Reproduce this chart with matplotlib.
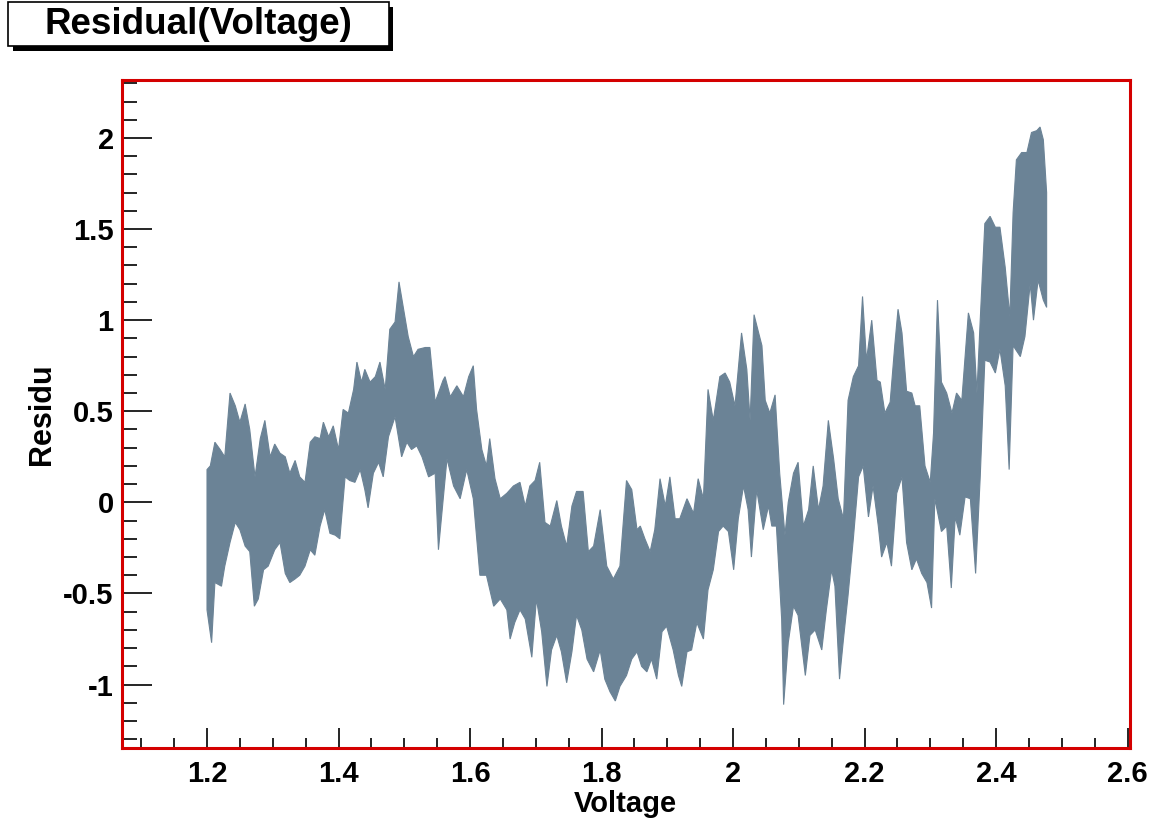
import numpy as np
import matplotlib
matplotlib.use("Agg")
import matplotlib.pyplot as plt
from matplotlib.patches import Rectangle
from matplotlib.ticker import MultipleLocator, FuncFormatter

# =========================
# Data (upper / lower edge of the residual band)
# =========================
volt_top = [
    1.200, 1.205, 1.212, 1.220, 1.227, 1.235, 1.243, 1.250, 1.258, 1.265,
    1.273, 1.281, 1.288, 1.296, 1.303, 1.311, 1.319, 1.326, 1.334, 1.341,
    1.349, 1.357, 1.364, 1.372, 1.377, 1.385, 1.392, 1.400, 1.407, 1.415,
    1.423, 1.428, 1.435, 1.440, 1.448, 1.456, 1.463, 1.471, 1.478, 1.486,
    1.492, 1.499, 1.506, 1.514, 1.521, 1.532, 1.539, 1.547, 1.559,
    1.562, 1.570, 1.580, 1.590, 1.598, 1.605, 1.610, 1.618, 1.625, 1.630,
    1.638, 1.646, 1.656, 1.666, 1.676, 1.684, 1.691, 1.699, 1.706, 1.714,
    1.722, 1.732, 1.739, 1.747, 1.755, 1.762, 1.772, 1.780, 1.788, 1.798,
    1.808, 1.818, 1.828, 1.838, 1.846, 1.854, 1.859, 1.866, 1.874, 1.881,
    1.889, 1.897, 1.904, 1.912, 1.919, 1.930, 1.940, 1.947, 1.955,
    1.962, 1.970, 1.980, 1.988, 1.995, 2.003, 2.013, 2.021, 2.026, 2.032,
    2.039, 2.044, 2.049, 2.056, 2.064, 2.071, 2.079, 2.084, 2.092, 2.099,
    2.107, 2.115, 2.122, 2.130, 2.137, 2.145, 2.153, 2.160, 2.168, 2.175,
    2.183, 2.191, 2.197, 2.203, 2.211, 2.219, 2.224, 2.231, 2.239, 2.246,
    2.251,
    2.257, 2.264, 2.272, 2.277, 2.284, 2.292, 2.300, 2.305, 2.311, 2.317,
    2.325, 2.333, 2.340, 2.348, 2.358, 2.366, 2.371, 2.376, 2.383, 2.391,
    2.399, 2.406, 2.414, 2.421, 2.426, 2.431, 2.439, 2.447, 2.454, 2.462,
    2.467, 2.472, 2.477,
]
resid_top = [
    0.18, 0.20, 0.33, 0.29, 0.25, 0.60, 0.53, 0.44, 0.54, 0.40,
    0.14, 0.35, 0.45, 0.25, 0.32, 0.27, 0.25, 0.16, 0.23, 0.14,
    0.11, 0.33, 0.36, 0.35, 0.44, 0.36, 0.42, 0.29, 0.51, 0.49,
    0.62, 0.77, 0.66, 0.73, 0.66, 0.69, 0.77, 0.62, 0.95, 0.99,
    1.21, 1.06, 0.91, 0.80, 0.84, 0.85, 0.85, 0.55, 0.67,
    0.69, 0.58, 0.64, 0.58, 0.69, 0.75, 0.51, 0.29, 0.20, 0.35,
    0.13, 0.02, 0.05, 0.09, 0.11, -0.02, 0.09, 0.12, 0.22, -0.11,
    -0.13, 0.01, -0.13, -0.24, -0.02, 0.06, 0.06, -0.27, -0.24, -0.04,
    -0.35, -0.42, -0.35, 0.12, 0.07, -0.15, -0.13, -0.20, -0.27, -0.15,
    0.13, -0.02, 0.14, -0.09, -0.09, 0.02, -0.06, 0.13, 0.02,
    0.62, 0.45, 0.69, 0.71, 0.66, 0.53, 0.93, 0.73, 0.45, 1.03,
    0.93, 0.86, 0.56, 0.49, 0.59, 0.16, -0.18, 0.00, 0.16, 0.22,
    -0.13, -0.04, 0.20, -0.04, 0.09, 0.45, 0.24, 0.02, -0.09, 0.56,
    0.69, 0.75, 1.13, 0.78, 1.00, 0.67, 0.66, 0.49, 0.55, 0.86,
    1.06,
    0.93, 0.61, 0.60, 0.53, 0.53, 0.20, 0.11, 0.38, 1.11, 0.66,
    0.60, 0.49, 0.60, 0.56, 1.04, 0.93, 0.60, 1.00, 1.53, 1.57,
    1.51, 1.51, 1.29, 1.02, 1.59, 1.88, 1.92, 1.92, 2.03, 2.04,
    2.06, 1.99, 1.70,
]

volt_bottom = [
    1.200, 1.207, 1.212, 1.222, 1.227, 1.235, 1.243, 1.250, 1.258, 1.265,
    1.272, 1.278, 1.286, 1.293, 1.303, 1.311, 1.319, 1.326, 1.334, 1.341,
    1.349, 1.357, 1.364, 1.372, 1.379, 1.387, 1.395, 1.402, 1.410, 1.417,
    1.425, 1.433, 1.440, 1.445, 1.453, 1.461, 1.468, 1.476, 1.486, 1.496,
    1.504, 1.511, 1.519, 1.527, 1.537, 1.547, 1.552,
    1.565, 1.575, 1.585, 1.595, 1.605, 1.615, 1.625, 1.636, 1.646, 1.656,
    1.661, 1.668, 1.676, 1.684, 1.694, 1.701, 1.709, 1.717, 1.724, 1.732,
    1.739, 1.747, 1.755, 1.762, 1.770, 1.778, 1.788, 1.798, 1.805, 1.813,
    1.821, 1.828, 1.838, 1.846, 1.854, 1.861, 1.869, 1.876, 1.884, 1.892,
    1.899, 1.909, 1.917, 1.922, 1.930, 1.937, 1.945, 1.955,
    1.962, 1.970, 1.978, 1.985, 1.993, 2.001, 2.008, 2.016, 2.023,
    2.028, 2.036, 2.046, 2.054, 2.059, 2.066, 2.074, 2.077, 2.084, 2.092,
    2.099, 2.110, 2.117, 2.125, 2.135, 2.142, 2.150, 2.155, 2.162, 2.168,
    2.175, 2.183, 2.191, 2.198, 2.206, 2.213, 2.221, 2.226, 2.234, 2.241,
    2.249,
    2.257, 2.264, 2.272, 2.279, 2.287, 2.295, 2.302, 2.307, 2.317, 2.325,
    2.332, 2.338, 2.345, 2.353, 2.361, 2.369, 2.376, 2.383, 2.391, 2.399,
    2.406, 2.414, 2.420, 2.426, 2.437, 2.444, 2.452, 2.457, 2.464, 2.472,
    2.477,
]
resid_bottom = [
    -0.59, -0.77, -0.44, -0.46, -0.35, -0.22, -0.11, -0.15, -0.24, -0.27,
    -0.57, -0.53, -0.37, -0.35, -0.26, -0.22, -0.39, -0.44, -0.42, -0.40,
    -0.35, -0.26, -0.29, -0.13, -0.04, -0.17, -0.18, -0.20, 0.14, 0.12,
    0.11, 0.18, 0.07, -0.03, 0.16, 0.22, 0.14, 0.36, 0.47, 0.25,
    0.33, 0.29, 0.31, 0.25, 0.14, 0.16, -0.26,
    0.24, 0.09, 0.02, 0.18, 0.02, -0.40, -0.40, -0.57, -0.53, -0.59,
    -0.75, -0.66, -0.59, -0.64, -0.85, -0.53, -0.71, -1.01, -0.81, -0.73,
    -0.82, -0.99, -0.82, -0.62, -0.70, -0.86, -0.93, -0.81, -0.97, -1.04,
    -1.09, -1.01, -0.95, -0.86, -0.82, -0.90, -0.93, -0.86, -0.97, -0.71,
    -0.68, -0.81, -0.95, -1.01, -0.82, -0.81, -0.66, -0.75,
    -0.48, -0.37, -0.16, -0.13, -0.16, -0.37, -0.09, 0.09, -0.04,
    -0.30, 0.07, -0.15, -0.02, -0.13, -0.13, -0.64, -1.11, -0.77, -0.57,
    -0.62, -0.95, -0.73, -0.70, -0.81, -0.59, -0.37, -0.46, -0.97, -0.75,
    -0.51, -0.20, 0.14, 0.20, -0.08, 0.09, -0.13, -0.30, -0.22, -0.35,
    0.05,
    0.14, -0.22, -0.37, -0.31, -0.39, -0.44, -0.58, 0.02, -0.16, -0.13,
    -0.47, -0.08, -0.18, 0.03, 0.02, -0.39, 0.14, 0.78, 0.77, 0.71,
    0.84, 0.64, 0.18, 0.86, 0.80, 0.91, 1.20, 1.00, 1.22, 1.11,
    1.07,
]

TITLE = "Residual(Voltage)"
X_LABEL = "Voltage"
Y_LABEL = "Residu"

BAND_COLOR = "#6b8396"
FRAME_RED = "#d40000"
FONT = ["Liberation Sans", "DejaVu Sans"]

plt.rcParams["font.family"] = FONT
plt.rcParams["font.weight"] = "bold"
plt.rcParams["axes.unicode_minus"] = False

W, H = 1149, 819
fig = plt.figure(figsize=(W / 100, H / 100), dpi=100)
fig.patch.set_facecolor("white")

# axes placed in pixel coordinates of the reference
left, right, top, bottom = 122, 1130, 80, 748
ax = fig.add_axes([left / W, 1 - bottom / H, (right - left) / W, (bottom - top) / H])

# band = upper edge left->right, then lower edge right->left
poly_x = np.concatenate([volt_top, volt_bottom[::-1]])
poly_y = np.concatenate([resid_top, resid_bottom[::-1]])
ax.fill(poly_x, poly_y, color=BAND_COLOR, lw=0.8, ec=BAND_COLOR, zorder=2)

ax.set_xlim(1.0707, 2.6038)
ax.set_ylim(-1.348, 2.318)

# ticks (ROOT style: inside, left/bottom only)
fmt = FuncFormatter(lambda v, p: "%g" % round(v, 3))
ax.xaxis.set_major_locator(MultipleLocator(0.2))
ax.xaxis.set_minor_locator(MultipleLocator(0.05))
ax.yaxis.set_major_locator(MultipleLocator(0.5))
ax.yaxis.set_minor_locator(MultipleLocator(0.1))
ax.xaxis.set_major_formatter(fmt)
ax.yaxis.set_major_formatter(fmt)
ax.tick_params(axis="x", which="major", direction="in", length=14.4, width=1.2,
               color="black", labelsize=21, pad=9)
ax.tick_params(axis="x", which="minor", direction="in", length=7.2, width=1.2, color="black")
ax.tick_params(axis="y", which="major", direction="in", length=21.6, width=1.2,
               color="black", labelsize=21, pad=6)
ax.tick_params(axis="y", which="minor", direction="in", length=10.8, width=1.2, color="black")
ax.tick_params(top=False, right=False, which="both")
for lab in ax.get_xticklabels() + ax.get_yticklabels():
    lab.set_fontweight("bold")

for side in ["left", "right", "top", "bottom"]:
    ax.spines[side].set_color(FRAME_RED)
    ax.spines[side].set_linewidth(2.2)
    ax.spines[side].set_zorder(5)

# axis titles placed at the reference pixel positions
fig.text(625 / W, 1 - 804 / H, X_LABEL, fontsize=21, fontweight="bold",
         ha="center", va="center")
fig.text(42 / W, 1 - 414 / H, Y_LABEL, fontsize=22, fontweight="bold",
         ha="center", va="center", rotation=90)

# title box with drop shadow
def px_rect(x0, y0, x1, y1, **kw):
    return Rectangle((x0 / W, 1 - y1 / H), (x1 - x0) / W, (y1 - y0) / H,
                     transform=fig.transFigure, **kw)

fig.patches.append(px_rect(13, 7, 393, 51, facecolor="black", edgecolor="none"))
fig.patches.append(px_rect(8, 2, 389, 46, facecolor="white", edgecolor="black", lw=1.2))
fig.text(198 / W, 1 - 24 / H, TITLE, fontsize=26.5, fontweight="bold",
         ha="center", va="center")

fig.savefig("out.png", dpi=100)
